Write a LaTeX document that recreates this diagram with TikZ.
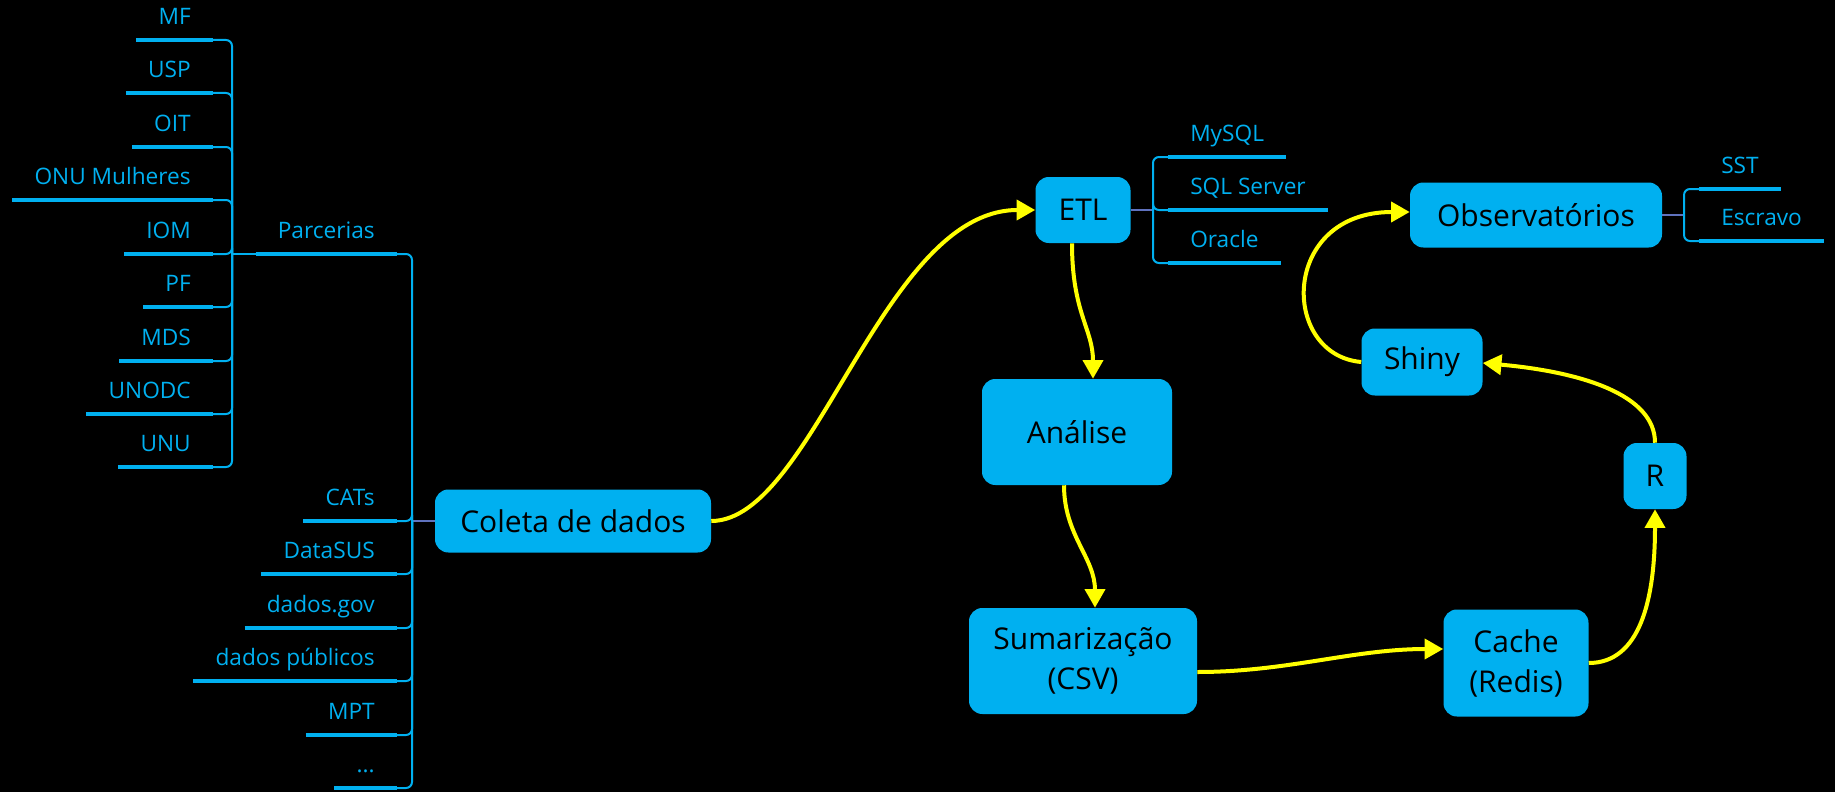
\documentclass[tikz,border=0pt]{standalone}
\usepackage{fontspec}
\setmainfont{Open Sans}
\usetikzlibrary{arrows.meta,calc}
\definecolor{cy}{HTML}{00B0F0}
\definecolor{lk}{HTML}{5F72BE}
\definecolor{yl}{HTML}{FFFF00}
\begin{document}
\begin{tikzpicture}[x=0.75pt,y=-0.75pt,
 box/.style={fill=cy, rounded corners=10pt, inner sep=0pt, align=center,
   font=\fontsize{22.5}{30}\selectfont, text=black},
 uline/.style={draw=cy, line width=2.6pt},
 leaf/.style={text=cy, font=\fontsize{17}{20}\selectfont, inner xsep=16.5pt,
   inner ysep=0pt, text height=12pt, text depth=11.25pt,
   append after command={(\tikzlastnode.south west) edge[uline] (\tikzlastnode.south east)}},
 conn/.style={draw=cy, line width=1.5pt, rounded corners=4.5pt},
 rootlink/.style={draw=lk, line width=1.5pt},
 flow/.style={draw=yl, line width=3pt, -{Triangle[length=14pt,width=15pt]}},
]
\fill[black] (0,0) rectangle (1835,792);
\useasboundingbox (0,0) rectangle (1835,792);

% main boxes
\node[box, minimum width=207pt, minimum height=47.25pt] (col) at (573,521) {Coleta de dados};
\node[box, minimum width=71.25pt, minimum height=49.5pt] (etl) at (1083,210) {ETL};
\node[box, minimum width=189pt, minimum height=48.75pt] (obs) at (1536,215) {Observatórios};
\node[box, minimum width=142.5pt, minimum height=79.5pt] (ana) at (1077,432) {Análise};
\node[box, minimum width=171pt, minimum height=79.5pt] (sum) at (1083,661) {Sumarização\\(CSV)};
\node[box, minimum width=108.75pt, minimum height=80.25pt] (cache) at (1516,663) {Cache\\(Redis)};
\node[box, minimum width=90.75pt, minimum height=50.25pt] (shiny) at (1422,362) {Shiny};
\node[box, minimum width=47.25pt, minimum height=49.5pt] (r) at (1655,476) {R};

% Parcerias children
\node[leaf, anchor=south east] (mf) at (213,40) {MF};
\node[leaf, anchor=south east] (usp) at (213,93) {USP};
\node[leaf, anchor=south east] (oit) at (213,147) {OIT};
\node[leaf, anchor=south east] (onu) at (213,200) {ONU Mulheres};
\node[leaf, anchor=south east] (iom) at (213,254) {IOM};
\node[leaf, anchor=south east] (pf) at (213,307) {PF};
\node[leaf, anchor=south east] (mds) at (213,361) {MDS};
\node[leaf, anchor=south east] (unodc) at (213,414) {UNODC};
\node[leaf, anchor=south east] (unu) at (213,467) {UNU};

% Coleta children
\node[leaf, anchor=south east] (parc) at (397,254) {Parcerias};
\node[leaf, anchor=south east] (cats) at (397,521) {CATs};
\node[leaf, anchor=south east] (dsus) at (397,574) {DataSUS};
\node[leaf, anchor=south east] (dgov) at (397,628) {dados.gov};
\node[leaf, anchor=south east] (dpub) at (397,681) {dados públicos};
\node[leaf, anchor=south east] (mpt) at (397,735) {MPT};
\node[leaf, anchor=south east] (etc) at (397,788) {...};

% ETL children
\node[leaf, anchor=south west] (mysql) at (1168,157) {MySQL};
\node[leaf, anchor=south west] (sqls) at (1168,210) {SQL Server};
\node[leaf, anchor=south west] (ora) at (1168,263) {Oracle};

% Observatorios children
\node[leaf, anchor=south west] (sst) at (1699,189) {SST};
\node[leaf, anchor=south west] (esc) at (1699,241) {Escravo};

% junctions
\coordinate (pj) at (232,254);
\coordinate (cj) at (412,521);
\coordinate (ej) at (1153,210);
\coordinate (oj) at (1684,215);

\draw[conn] (parc.south west) -- (pj);
\foreach \n in {mf,usp,oit,onu,iom,pf,mds,unodc,unu}
  \draw[conn] (pj) |- (\n.south east);

\draw[rootlink] (col.west) -- (cj);
\foreach \n in {parc,cats,dsus,dgov,dpub,mpt,etc}
  \draw[conn] (cj) |- (\n.south east);

\draw[rootlink] (etl.east) -- (ej);
\foreach \n in {mysql,sqls,ora}
  \draw[conn] (ej) |- (\n.south west);

\draw[rootlink] (obs.east) -- (oj);
\foreach \n in {sst,esc}
  \draw[conn] (oj) |- (\n.south west);

% flow arrows
\draw[flow] (col.east) .. controls +(102,0) and +(-153,0) .. (etl.west);
\draw[flow] ($(etl.south)+(-11,0)$) .. controls +(0,70) and +(0,-50) .. ($(ana.north)+(16,0)$);
\draw[flow] ($(ana.south)+(-13,0)$) .. controls +(0,50) and +(0,-50) .. ($(sum.north)+(12,0)$);
\draw[flow] ($(sum.east)+(0,11)$) .. controls +(90,0) and +(-90,0) .. ($(cache.west)+(0,-14)$);
\draw[flow] (cache.east) .. controls +(51,0) and +(0,91) .. (r.south);
\draw[flow] (r.north) .. controls +(0,-48) and +(99,9) .. ($(shiny.east)+(0,1)$);
\draw[flow] (shiny.west) .. controls +(-81,-7) and +(-130,0) .. ($(obs.west)+(0,-3)$);
\end{tikzpicture}
\end{document}
